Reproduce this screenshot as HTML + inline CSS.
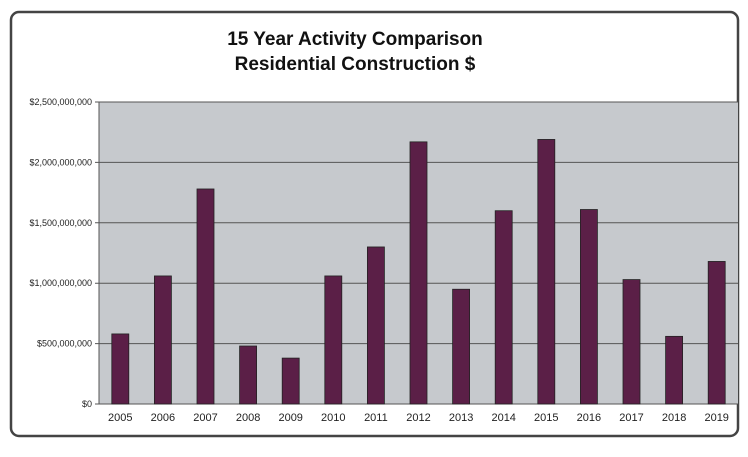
<!DOCTYPE html>
<html><head><meta charset="utf-8"><style>
body{margin:0;background:#fff;width:748px;height:452px;overflow:hidden;font-family:"Liberation Sans",sans-serif}
</style></head><body>
<svg width="748" height="452">
<rect x="11" y="12" width="727" height="424" rx="8" fill="#fff" stroke="#444" stroke-width="2.5"/>
<text x="355" y="45" text-anchor="middle" font-size="19" font-weight="bold" fill="#111">15 Year Activity Comparison</text>
<text x="355" y="70" text-anchor="middle" font-size="19" font-weight="bold" fill="#111">Residential Construction $</text>
<rect x="99" y="102" width="639" height="302" fill="#c6c9cd"/>
<g id="grid"></g><g id="bars"></g><g id="labels"></g>
</svg>
<script>
const years=["2005","2006","2007","2008","2009","2010","2011","2012","2013","2014","2015","2016","2017","2018","2019"];
const values=[580,1060,1780,480,380,1060,1300,2170,950,1600,2190,1610,1030,560,1180];
const ticks=[0,500,1000,1500,2000,2500];
const tickLabels=["$0","$500,000,000","$1,000,000,000","$1,500,000,000","$2,000,000,000","$2,500,000,000"];
const X0=99,X1=738,Y0=404,Y1=102,NS="http://www.w3.org/2000/svg";
const y=v=>Y0-(v/2500)*(Y0-Y1);
const step=(X1-X0)/years.length;
const xc=i=>X0+step*(i+0.5);
const g=document.getElementById('grid'),b=document.getElementById('bars'),l=document.getElementById('labels');
function mk(t,a,p){const e=document.createElementNS(NS,t);for(const k in a)e.setAttribute(k,a[k]);p.appendChild(e);return e;}
ticks.forEach((t,i)=>{
 const ln=mk('line',{x1:X0-4,x2:X1,y1:y(t),y2:y(t),stroke:'#555','stroke-width':1},g);
 
 
 const tx=mk('text',{x:X0-7,y:y(t)+3,'text-anchor':'end','font-size':9,fill:'#222'},l);
 tx.textContent=tickLabels[i];
 
 
});
mk('line',{x1:X0,x2:X0,y1:Y1,y2:Y0,stroke:'#555'},g);
years.forEach((yr,i)=>{
 const r=mk('rect',{x:xc(i)-8.5,y:y(values[i]),width:17,height:Y0-y(values[i]),fill:'#5b1f47',stroke:'#222','stroke-width':0.8},b);
 
 
 const tx=mk('text',{x:xc(i),y:421,'text-anchor':'middle','font-size':11,fill:'#222'},l);
 tx.textContent=yr;
 
 
});
</script>
</body></html>
